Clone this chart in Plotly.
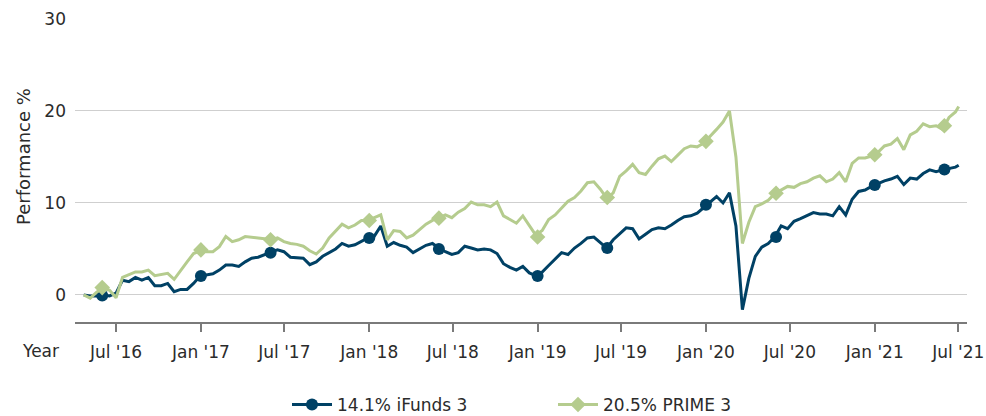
import pandas as pd
import plotly.graph_objects as go

# Fortnightly performance (%) from 22 Apr 2016, last value on 2 Jul 2021
series_start = "2016-04-22"
series_end = "2021-07-02"

ifunds_vals = [
    0.0, -0.1, -0.1, 0.0, -0.1, 0.2, 1.6, 1.45, 1.9, 1.6,
    1.9, 1.0, 1.0, 1.25, 0.35, 0.6, 0.6, 1.25, 2.05, 2.2,
    2.3, 2.7, 3.25, 3.25, 3.1, 3.6, 4.0, 4.1, 4.4, 4.65,
    4.9, 4.7, 4.1, 4.05, 4.0, 3.3, 3.6, 4.2, 4.6, 5.0,
    5.6, 5.3, 5.45, 5.8, 6.2, 6.4, 7.5, 5.3, 5.7, 5.4,
    5.2, 4.6, 5.0, 5.4, 5.6, 5.1, 4.7, 4.4, 4.6, 5.3,
    5.1, 4.9, 5.0, 4.9, 4.5, 3.4, 3.0, 2.7, 3.1, 2.4,
    2.1, 2.5, 3.2, 3.9, 4.6, 4.4, 5.1, 5.6, 6.2, 6.3,
    5.7, 5.1, 6.0, 6.7, 7.3, 7.2, 6.1, 6.6, 7.1, 7.3,
    7.2, 7.6, 8.1, 8.5, 8.6, 8.9, 9.5, 10.0, 10.7, 10.0,
    11.1, 7.5, -1.6, 1.8, 4.2, 5.2, 5.6, 6.3, 7.5, 7.2,
    8.0, 8.3, 8.6, 8.95, 8.8, 8.8, 8.6, 9.6, 8.7, 10.4,
    11.25, 11.4, 11.8, 12.1, 12.4, 12.6, 12.9, 12.0, 12.7, 12.6,
    13.2, 13.6, 13.4, 13.6, 13.75, 13.9, 14.1,
]

prime_vals = [
    0.0, -0.35, 0.3, 0.8, 0.5, -0.3, 1.9, 2.2, 2.5, 2.5,
    2.7, 2.1, 2.2, 2.35, 1.7, 2.7, 3.6, 4.5, 4.8, 4.7,
    4.7, 5.25, 6.35, 5.8, 6.0, 6.35, 6.3, 6.2, 6.1, 6.0,
    6.2, 5.8, 5.6, 5.5, 5.3, 4.8, 4.45, 5.1, 6.2, 6.9,
    7.7, 7.3, 7.6, 8.1, 8.1, 8.4, 8.7, 6.0, 7.0, 6.9,
    6.2, 6.5, 7.1, 7.7, 8.1, 8.35, 8.7, 8.4, 9.0, 9.4,
    10.1, 9.8, 9.8, 9.6, 10.1, 8.6, 8.2, 7.8, 8.6, 7.5,
    6.5, 7.0, 8.2, 8.7, 9.5, 10.2, 10.6, 11.3, 12.2, 12.3,
    11.5, 10.5, 11.1, 12.9, 13.5, 14.2, 13.3, 13.1, 14.0, 14.8,
    15.1, 14.5, 15.2, 15.9, 16.2, 16.1, 16.5, 17.2, 18.0, 18.8,
    20.0, 15.0, 5.6, 7.9, 9.6, 9.9, 10.3, 11.0, 11.4, 11.8,
    11.7, 12.1, 12.3, 12.7, 12.95, 12.3, 12.6, 13.3, 12.3, 14.3,
    14.9, 14.9, 15.1, 15.5, 16.2, 16.4, 17.0, 15.8, 17.4, 17.8,
    18.6, 18.3, 18.4, 18.0, 19.3, 19.9, 20.5,
]

# Marker points (1 Jan and 1 Jun of each year)
marker_dates = [
    "2016-06-01", "2017-01-01", "2017-06-01", "2018-01-01", "2018-06-01",
    "2019-01-01", "2019-06-01", "2020-01-01", "2020-06-01", "2021-01-01",
    "2021-06-01",
]
ifunds_marker_vals = [-0.05, 2.05, 4.6, 6.2, 5.0, 2.05, 5.1, 9.8, 6.3, 11.95, 13.65]
prime_marker_vals = [0.8, 4.9, 6.0, 8.1, 8.35, 6.3, 10.6, 16.7, 11.05, 15.25, 18.4]

tick_dates = [
    "2016-07-01", "2017-01-01", "2017-07-01", "2018-01-01", "2018-07-01",
    "2019-01-01", "2019-07-01", "2020-01-01", "2020-07-01", "2021-01-01",
    "2021-07-01",
]
tick_labels = [
    "Jul '16", "Jan '17", "Jul '17", "Jan '18", "Jul '18", "Jan '19",
    "Jul '19", "Jan '20", "Jul '20", "Jan '21", "Jul '21",
]

series_names = ["14.1% iFunds 3", "20.5% PRIME 3"]

BLUE = "#004165"
GREEN = "#B5CC8E"
FONT = "DejaVu Sans"
TEXT = "#2b2b2b"
FS = 17

dates = list(pd.date_range(series_start, periods=len(ifunds_vals) - 1, freq="14D"))
dates.append(pd.Timestamp(series_end))

fig = go.Figure()

for name, vals, mvals, color, symbol, msize in [
    (series_names[0], ifunds_vals, ifunds_marker_vals, BLUE, "circle", 12),
    (series_names[1], prime_vals, prime_marker_vals, GREEN, "diamond", 12),
]:
    fig.add_trace(go.Scatter(
        x=dates, y=vals, mode="lines", name=name,
        line=dict(color=color, width=3), showlegend=False, hoverinfo="skip",
    ))
    fig.add_trace(go.Scatter(
        x=pd.to_datetime(marker_dates), y=mvals, mode="markers", name=name,
        marker=dict(color=color, size=msize, symbol=symbol, line=dict(width=0)),
        showlegend=False,
    ))

# legend entries (line with marker)
for name, color, symbol in [
    (series_names[0], BLUE, "circle"),
    (series_names[1], GREEN, "diamond"),
]:
    fig.add_trace(go.Scatter(
        x=[None], y=[None], mode="lines+markers", name=name,
        line=dict(color=color, width=3),
        marker=dict(color=color, size=12, symbol=symbol),
    ))

fig.update_layout(
    width=986, height=416,
    margin=dict(l=75, r=19, t=19, b=94, autoexpand=False),
    plot_bgcolor="white", paper_bgcolor="white",
    font=dict(family=FONT, size=FS, color=TEXT),
    showlegend=True,
    legend=dict(
        orientation="h", x=(287 - 75) / 892, xanchor="left",
        y=(322 - 405) / 303, yanchor="middle",
        font=dict(family=FONT, size=FS, color=TEXT),
        entrywidth=211, itemwidth=40, tracegroupgap=0,
    ),
    annotations=[
        dict(text="Year", xref="paper", yref="paper", x=(20 - 75) / 892, y=(322 - 351) / 303,
             xanchor="left", yanchor="middle", showarrow=False,
             font=dict(family=FONT, size=FS, color=TEXT)),
        dict(text="Performance %", xref="paper", yref="paper", x=(23 - 75) / 892,
             y=(322 - 157) / 303, xanchor="center", yanchor="middle", textangle=-90,
             showarrow=False, font=dict(family=FONT, size=18, color=TEXT)),
    ],
)

fig.update_xaxes(
    type="date", range=["2016-04-03", "2021-07-20"],
    tickvals=pd.to_datetime(tick_dates), ticktext=tick_labels,
    ticks="outside", ticklen=8, tickwidth=1.5, tickcolor="#7a7a7a",
    showline=True, linecolor="#7a7a7a", linewidth=2, showgrid=False, zeroline=False,
    ticklabelstandoff=6,
    tickfont=dict(family=FONT, size=FS, color=TEXT),
)
fig.update_yaxes(
    range=[-2.94, 30], tickvals=[0, 10, 20, 30],
    showgrid=True, gridcolor="#cfcfcf", gridwidth=1, zeroline=False, showline=False,
    ticks="", ticklabelstandoff=8,
    tickfont=dict(family=FONT, size=FS, color=TEXT),
)

fig.write_html("out.html")
